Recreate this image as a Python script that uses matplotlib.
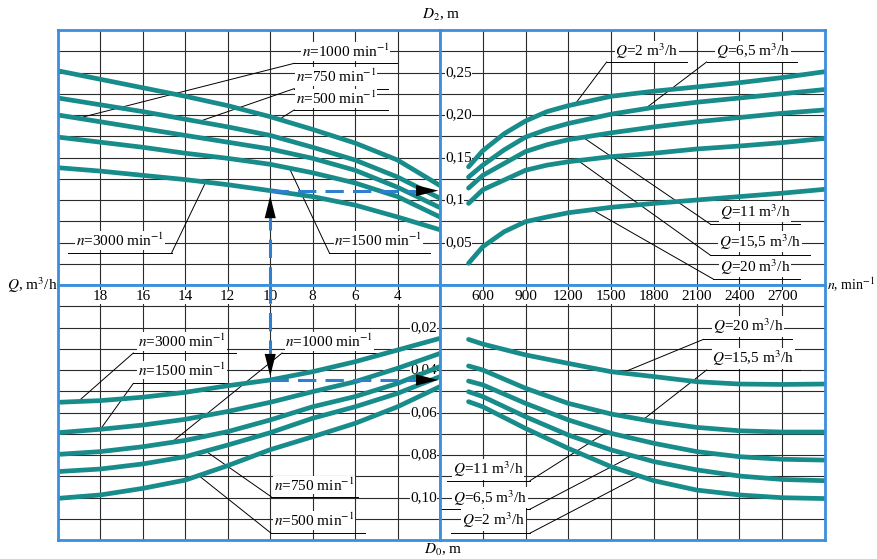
import numpy as np
import matplotlib
matplotlib.use("Agg")
import matplotlib.pyplot as plt

plt.rcParams["font.family"] = ["Liberation Serif", "DejaVu Serif"]
plt.rcParams["mathtext.fontset"] = "stix"
plt.rcParams["font.size"] = 11

# ---- data ----
# upper left: D2 (m) against Q (m3/h), one curve per speed n
Q_TL = [20, 18, 16, 14, 12, 10, 8, 6, 4, 2]
D2_N500 = [0.252, 0.242, 0.232, 0.222, 0.211, 0.198, 0.183, 0.167, 0.147, 0.117]
D2_N750 = [0.220, 0.212, 0.204, 0.195, 0.186, 0.176, 0.162, 0.147, 0.127, 0.102]
D2_N1000 = [0.200, 0.192, 0.184, 0.176, 0.168, 0.160, 0.149, 0.135, 0.115, 0.091]
D2_N1500 = [0.174, 0.168, 0.162, 0.155, 0.149, 0.142, 0.132, 0.120, 0.104, 0.080]
D2_N3000 = [0.138, 0.134, 0.129, 0.124, 0.118, 0.111, 0.104, 0.094, 0.080, 0.065]

# upper right: D2 (m) against n (min-1), one curve per flow Q
N_TR = [500, 600, 750, 900, 1050, 1200, 1500, 1800, 2100, 2400, 2700, 3000]
D2_Q2 = [0.139, 0.158, 0.178, 0.193, 0.204, 0.211, 0.222, 0.228, 0.233, 0.238, 0.244, 0.251]
D2_Q6_5 = [0.127, 0.141, 0.159, 0.174, 0.183, 0.190, 0.201, 0.209, 0.215, 0.220, 0.225, 0.230]
D2_Q11 = [0.114, 0.129, 0.143, 0.157, 0.165, 0.171, 0.179, 0.186, 0.192, 0.197, 0.202, 0.206]
D2_Q15_5 = [0.096, 0.112, 0.1235, 0.135, 0.141, 0.145, 0.151, 0.155, 0.160, 0.1635, 0.1675, 0.1725]
D2_Q20 = [0.0255, 0.045, 0.0627, 0.0745, 0.080, 0.085, 0.0914, 0.096, 0.100, 0.104, 0.108, 0.1126]

# lower left: D0 (m) against Q
Q_BL = [20, 18, 16, 14, 12, 10, 8, 6, 4, 2]
D0_N3000 = [0.0552, 0.0544, 0.0528, 0.0505, 0.0474, 0.0447, 0.0408, 0.0361, 0.0306, 0.0251]
D0_N1500 = [0.0695, 0.0679, 0.0659, 0.0632, 0.0595, 0.0552, 0.0502, 0.0455, 0.0392, 0.0322]
D0_N1000 = [0.0797, 0.0784, 0.0761, 0.0731, 0.0690, 0.0635, 0.0573, 0.0525, 0.0463, 0.0384]
D0_N750 = [0.0878, 0.0866, 0.0842, 0.0808, 0.0753, 0.0695, 0.0627, 0.0573, 0.0510, 0.0431]
D0_N500 = [0.1004, 0.0988, 0.0957, 0.0918, 0.0850, 0.0775, 0.0714, 0.0651, 0.0573, 0.0478]

# lower right: D0 (m) against n
N_BR = [500, 600, 900, 1200, 1500, 1800, 2100, 2400, 2700, 3000]
D0_Q20 = [0.0256, 0.0278, 0.0329, 0.0369, 0.0408, 0.0431, 0.0455, 0.0466, 0.0468, 0.0466]
D0_Q15_5 = [0.0381, 0.0400, 0.0486, 0.0557, 0.0607, 0.0643, 0.0670, 0.0686, 0.0692, 0.0692]
D0_Q11 = [0.0452, 0.0470, 0.0557, 0.0635, 0.0698, 0.0745, 0.0784, 0.0808, 0.0820, 0.0824]
D0_Q6_5 = [0.0502, 0.0525, 0.0620, 0.0706, 0.0776, 0.0831, 0.0870, 0.0899, 0.0915, 0.0921]
D0_Q2 = [0.0549, 0.0573, 0.0675, 0.0769, 0.0855, 0.0921, 0.0965, 0.0988, 0.1001, 0.1005]

# worked example drawn with the dashed arrows
EX_Q = 10

Q_TICKS = [18, 16, 14, 12, 10, 8, 6, 4]
N_TICKS = [600, 900, 1200, 1500, 1800, 2100, 2400, 2700]
D2_TICKS = [0.25, 0.20, 0.15, 0.10, 0.05]
D2_TICKLABELS = ["0,25", "0,20", "0,15", "0,1", "0,05"]
D0_TICKS = [0.02, 0.04, 0.06, 0.08, 0.10]
D0_TICKLABELS = ["0,02", "0,04", "0,06", "0,08", "0,10"]

TEAL = "#178c8a"
FRAME = "#3b8fdc"
DASH = "#2f7fd1"
WHITE = dict(facecolor="white", edgecolor="none", pad=0.6)

W, H = 877, 559
L, C, R = 58 / W, 440 / W, 825 / W
T, M, B = 1 - 30 / H, 1 - 285 / H, 1 - 540 / H

fig = plt.figure(figsize=(W / 100, H / 100), dpi=100)
ax_tl = fig.add_axes([L, M, C - L, T - M])
ax_tr = fig.add_axes([C, M, R - C, T - M])
ax_bl = fig.add_axes([L, B, C - L, M - B])
ax_br = fig.add_axes([C, B, R - C, M - B])


def setup(ax, xlim, ylim, xt, yt):
    ax.set_xlim(*xlim)
    ax.set_ylim(*ylim)
    ax.set_xticks(xt)
    ax.set_yticks(yt)
    ax.tick_params(length=0, labelbottom=False, labelleft=False)
    ax.grid(True, color="#2b2b2b", lw=0.8)
    ax.set_axisbelow(True)
    for s in ax.spines.values():
        s.set_color(FRAME)
        s.set_linewidth(2.0)
        s.set_zorder(6)


q_grid = np.arange(2, 21, 2)
n_grid = np.arange(300, 3001, 300)
setup(ax_tl, (20, 2), (0, 0.30), q_grid, np.arange(0, 0.3001, 0.025))
setup(ax_tr, (300, 3000), (0, 0.30), n_grid, np.arange(0, 0.3001, 0.025))
setup(ax_bl, (20, 2), (0.12, 0), q_grid, np.arange(0, 0.1201, 0.01))
setup(ax_br, (300, 3000), (0.12, 0), n_grid, np.arange(0, 0.1201, 0.01))

tl = {"1000": D2_N1000, "750": D2_N750, "500": D2_N500, "3000": D2_N3000, "1500": D2_N1500}
tr = {"2": D2_Q2, "6,5": D2_Q6_5, "11": D2_Q11, "15,5": D2_Q15_5, "20": D2_Q20}
bl = {"3000": D0_N3000, "1500": D0_N1500, "1000": D0_N1000, "750": D0_N750, "500": D0_N500}
br = {"20": D0_Q20, "15,5": D0_Q15_5, "11": D0_Q11, "6,5": D0_Q6_5, "2": D0_Q2}

for ax, xs, curves in [(ax_tl, Q_TL, tl), (ax_tr, N_TR, tr), (ax_bl, Q_BL, bl), (ax_br, N_BR, br)]:
    for ys in curves.values():
        ax.plot(xs, ys, color=TEAL, lw=3.4, solid_capstyle="round", zorder=4)


def on_curve(xs, ys, x):
    xs, ys = np.asarray(xs, float), np.asarray(ys, float)
    order = np.argsort(xs)
    return np.interp(x, xs[order], ys[order])


def callout(ax, text, tx, ty, ux0, ux1, uy, start, target, xs, ys):
    ax.text(tx, ty, text, ha="center", va="center", bbox=WHITE, zorder=3)
    ax.plot([ux0, ux1], [uy, uy], color="black", lw=0.7, zorder=2.5)
    ax.plot([start, target], [uy, on_curve(xs, ys, target)], color="black", lw=0.7, zorder=2.5)


nlab = lambda v: f"$n$={v} min$^{{-1}}$"
qlab = lambda v: f"$Q$={v} m$^3$/h"

# upper left call-outs
callout(ax_tl, nlab(1000), 6.45, 0.2745, 8.87, 4.04, 0.2608, 8.87, 19.05, Q_TL, tl["1000"])
callout(ax_tl, nlab(750), 6.88, 0.245, 8.87, 4.46, 0.231, 8.87, 13.37, Q_TL, tl["750"])
callout(ax_tl, nlab(500), 6.88, 0.2196, 8.87, 4.46, 0.2059, 8.87, 9.58, Q_TL, tl["500"])
callout(ax_tl, nlab(3000), 17.08, 0.0521, 19.53, 14.65, 0.0376, 14.65, 13.04, Q_TL, tl["3000"])
callout(ax_tl, nlab(1500), 4.9, 0.0521, 7.21, 2.47, 0.0376, 7.21, 9.1, Q_TL, tl["1500"])

# upper right call-outs
callout(ax_tr, qlab("2"), 1750, 0.2745, 1469, 2030, 0.2624, 1469, 1247, N_TR, tr["2"])
callout(ax_tr, qlab("6,5"), 2497, 0.2745, 2170, 2801, 0.2624, 2170, 1738, N_TR, tr["6,5"])
callout(ax_tr, qlab("11"), 2509, 0.0862, 2194, 2825, 0.0718, 2194, 1303, N_TR, tr["11"])
callout(ax_tr, qlab("15,5"), 2544, 0.0509, 2194, 2895, 0.0353, 2194, 1268, N_TR, tr["15,5"])
callout(ax_tr, qlab("20"), 2509, 0.0215, 2215, 2825, 0.0071, 2215, 1366, N_TR, tr["20"])

# lower left call-outs
callout(ax_bl, nlab(3000), 14.16, 0.0267, 16.45, 11.62, 0.032, 16.45, 19.05, Q_BL, bl["3000"])
callout(ax_bl, nlab(1500), 14.16, 0.040, 16.45, 11.95, 0.0463, 16.45, 18.0, Q_BL, bl["1500"])
callout(ax_bl, nlab(1000), 7.21, 0.0267, 9.44, 4.7, 0.032, 9.44, 14.65, Q_BL, bl["1000"])
callout(ax_bl, nlab(750), 7.92, 0.0941, 9.96, 5.88, 0.0996, 9.96, 13.04, Q_BL, bl["750"])
callout(ax_bl, nlab(500), 7.92, 0.1109, 9.96, 5.55, 0.1168, 9.96, 13.37, Q_BL, bl["500"])

# lower right call-outs
callout(ax_br, qlab("20"), 2462, 0.0196, 2147, 2766, 0.0256, 2147, 1576, N_BR, br["20"])
callout(ax_br, qlab("15,5"), 2497, 0.0345, 2170, 2825, 0.040, 2170, 1724, N_BR, br["15,5"])
callout(ax_br, qlab("11"), 639, 0.0867, 349, 931, 0.0921, 931, 1470, N_BR, br["11"])
callout(ax_br, qlab("6,5"), 651, 0.1001, 300, 931, 0.1055, 931, 1650, N_BR, br["6,5"])
callout(ax_br, qlab("2"), 674, 0.1106, 380, 931, 0.1168, 931, 1700, N_BR, br["2"])

# scale labels
for v, s in zip(D2_TICKS, D2_TICKLABELS):
    ax_tr.text(335, v, s, ha="left", va="center", bbox=dict(WHITE, pad=0.2), zorder=3)
for v, s in zip(D0_TICKS, D0_TICKLABELS):
    ax_bl.text(2.14, v, s, ha="right", va="center", bbox=dict(WHITE, pad=0.2), zorder=3)
for v in Q_TICKS:
    ax_bl.text(v, 0.0056, f"{v}", ha="center", va="center", bbox=dict(WHITE, pad=0.2), zorder=3)
for v in N_TICKS:
    ax_br.text(v, 0.0056, f"{v}", ha="center", va="center", bbox=dict(WHITE, pad=0.2), zorder=3)

# worked example: Q = 10, n = 3000
d2 = on_curve(Q_TL, tl["3000"], EX_Q)
d0 = on_curve(Q_BL, bl["3000"], EX_Q)
arrow = dict(arrowstyle="-|>,head_length=1.0,head_width=0.25", color="black", lw=0, mutation_scale=16)
dash = dict(color=DASH, lw=2.2, dashes=(6, 3), zorder=5)
ax_tl.plot([EX_Q, EX_Q], [0, d2 - 0.012], **dash)
ax_tl.plot([EX_Q, 2.6], [d2, d2], **dash)
ax_tl.annotate("", xy=(EX_Q, d2 - 0.003), xytext=(EX_Q, d2 - 0.03), arrowprops=arrow, zorder=6)
ax_tl.annotate("", xy=(1.95, d2), xytext=(3.2, d2), arrowprops=arrow, zorder=6, annotation_clip=False)
ax_bl.plot([EX_Q, EX_Q], [0, d0 - 0.005], **dash)
ax_bl.plot([EX_Q, 2.6], [d0, d0], **dash)
ax_bl.annotate("", xy=(EX_Q, d0 - 0.0005), xytext=(EX_Q, d0 - 0.012), arrowprops=arrow, zorder=6)
ax_bl.annotate("", xy=(1.95, d0), xytext=(3.2, d0), arrowprops=arrow, zorder=6, annotation_clip=False)

# axis titles
fig.text(441 / W, 1 - 15 / H, "$D_2$, m", ha="center", va="center")
fig.text(443 / W, 1 - 550 / H, "$D_0$, m", ha="center", va="center")
fig.text(57 / W, M, "$Q$, m$^3$/h", ha="right", va="center")
fig.text(875 / W, M, "$n$, min$^{-1}$", ha="right", va="center", fontsize=10)

fig.savefig("out.png", dpi=100)
